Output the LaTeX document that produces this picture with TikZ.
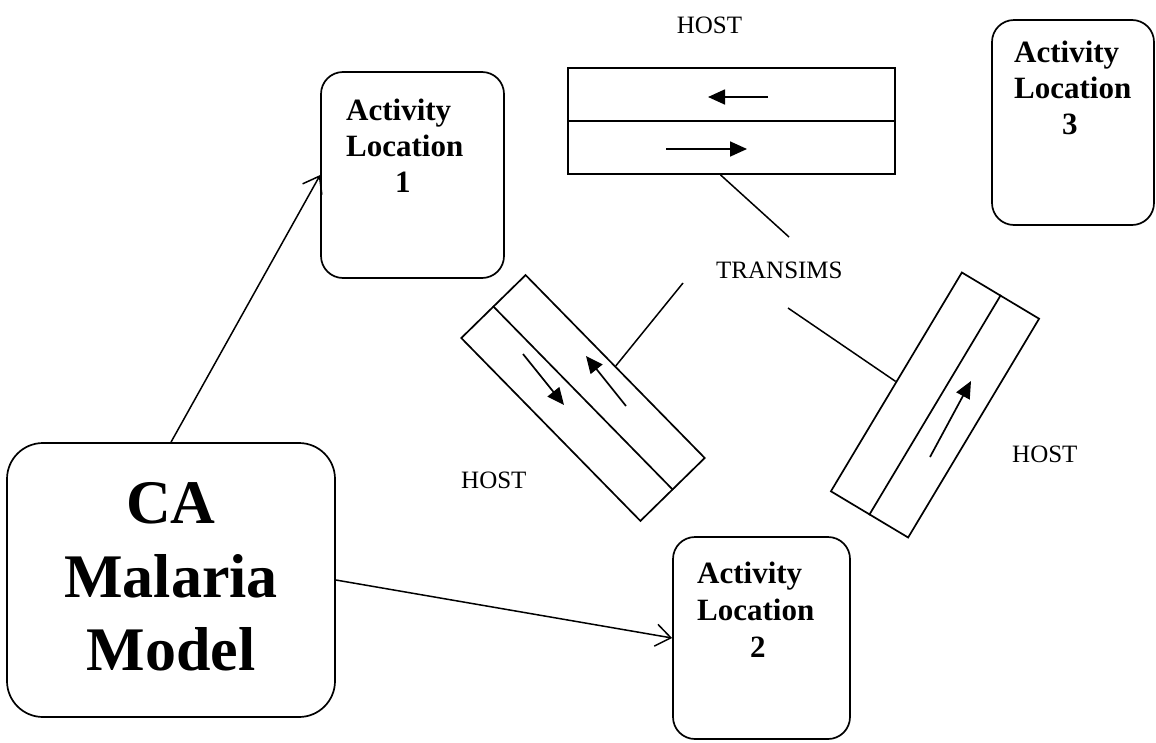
\documentclass[tikz,border=0pt]{standalone}
\usepackage{fontspec}
\setmainfont{Liberation Serif}
\usetikzlibrary{arrows.meta,calc}

\begin{document}
\begin{tikzpicture}[x=1pt,y=-1pt,
  locbox/.style={draw, line width=1.7pt, rounded corners=22pt, inner sep=0pt},
  bigbox/.style={draw, line width=1.7pt, rounded corners=36pt, inner sep=0pt},
  road/.style={draw, line width=1.7pt, inner sep=0pt},
  plain/.style={font=\fontsize{25}{30}\selectfont, inner sep=0pt},
  loctext/.style={font=\fontsize{31}{37}\selectfont\bfseries, inner sep=0pt, anchor=base west},
  catext/.style={font=\fontsize{62}{73}\selectfont\bfseries, inner sep=0pt, anchor=base},
  link/.style={line width=1.5pt, -{Straight Barb[length=15pt,width=22pt,line width=1.5pt]}},
  lane/.style={line width=1.7pt, -{Triangle[length=17pt,width=15pt]}},
  tie/.style={line width=1.5pt}]
\useasboundingbox (0,0) rectangle (1156,742);

% model box and activity locations
\node[bigbox, minimum width=328pt, minimum height=274pt] (ca) at (171,580) {};
\node[catext] (ca1) at (171,523) {CA};
\node[catext] (ca2) at (171,597) {Malaria};
\node[catext] (ca3) at (171,670) {Model};

\node[locbox, minimum width=183pt, minimum height=206pt] (al1) at (412.5,175) {};
\node[loctext] (al1a) at (346,120) {Activity};
\node[loctext] (al1b) at (346,156) {Location};
\node[loctext] (al1c) at (395,192) {1};

\node[locbox, minimum width=177pt, minimum height=202pt] (al2) at (761.5,638) {};
\node[loctext] (al2a) at (697,583) {Activity};
\node[loctext] (al2b) at (697,620) {Location};
\node[loctext] (al2c) at (750,657) {2};

\node[locbox, minimum width=162pt, minimum height=205pt] (al3) at (1073,122.5) {};
\node[loctext] (al3a) at (1014,62) {Activity};
\node[loctext] (al3b) at (1014,98) {Location};
\node[loctext] (al3c) at (1062,134) {3};

% roads with two lanes each
\node[road, minimum width=327pt, minimum height=106pt] (rt) at (731.5,121) {};
\draw[road] (rt.west) -- (rt.east);
\draw[lane] (768,97) -- (708,97);
\draw[lane] (666,149) -- (747,149);

\node[road, rotate=-45.6, minimum width=256pt, minimum height=90pt] (rl) at (583,398) {};
\draw[road] (rl.west) -- (rl.east);
\draw[lane] (523,354) -- (564,405);
\draw[lane] (626,406) -- (586,356);

\node[road, rotate=59.1, minimum width=255pt, minimum height=90pt] (rr) at (935,405) {};
\draw[road] (rr.west) -- (rr.east);
\draw[lane] (930,457) -- (971,381);

% labels
\node[plain, anchor=base] (hostt) at (709.5,33) {HOST};
\node[plain, anchor=base west] (hostl) at (461,488) {HOST};
\node[plain, anchor=base west] (hostr) at (1012,462) {HOST};
\node[plain, anchor=base west] (tr) at (716,278) {TRANSIMS};

% TRANSIMS ties to the roads
\coordinate (trn) at (789,237);
\coordinate (trw) at (683,283);
\coordinate (trs) at (788,308);
\draw[tie] ($(rt.south)+(-11,0)$) -- (trn);
\draw[tie] (trw) -- (rl.north);
\draw[tie] (trs) -- (rr.north);

% model links
\draw[link] (ca.north) -- (al1.west);
\draw[link] (ca.east) -- (al2.west);
\end{tikzpicture}
\end{document}
